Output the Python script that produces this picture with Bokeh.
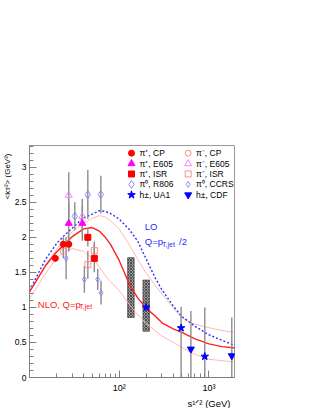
import math
from bokeh.plotting import figure
from bokeh.models import FixedTicker, Label, Span, Range1d, Title
from bokeh.embed import file_html
from bokeh.resources import INLINE

# ---------------- data ----------------
curve_s = [10, 15, 20, 25, 30, 40, 50, 60, 70, 80, 100, 130, 160, 200, 250, 300, 400, 500, 700, 1000, 1400, 2000]
lo_curve = [1.24, 1.68, 1.91, 2.04, 2.13, 2.28, 2.33, 2.38, 2.37, 2.34, 2.26, 2.11, 1.95, 1.69, 1.43, 1.25, 1.02, 0.87, 0.73, 0.61, 0.53, 0.45]
nlo_curve = [1.22, 1.59, 1.79, 1.91, 2.01, 2.12, 2.14, 2.09, 2.00, 1.90, 1.67, 1.33, 1.14, 0.99, 0.88, 0.78, 0.695, 0.645, 0.55, 0.48, 0.44, 0.42]
nlo_upper = [1.22, 1.60, 1.83, 1.98, 2.08, 2.20, 2.27, 2.31, 2.29, 2.24, 2.12, 1.89, 1.69, 1.49, 1.32, 1.19, 0.99, 0.85, 0.76, 0.71, 0.67, 0.64]
nlo_lower = [1.12, 1.48, 1.70, 1.80, 1.84, 1.80, 1.70, 1.58, 1.45, 1.37, 1.24, 1.04, 0.90, 0.77, 0.67, 0.59, 0.50, 0.43, 0.33, 0.26, 0.24, 0.22]

pip_cp_s = [19.4, 23.8, 27.4]
pip_cp_k = [1.70, 1.90, 1.90]
pip_cp_e = [0.05, 0.10, 0.10]
pim_cp_s = [23.8, 27.4]
pim_cp_k = [1.80, 1.90]
pim_cp_e = [0.10, 0.10]
pip_e605_s = [27.4, 38.8]
pip_e605_k = [2.20, 2.20]
pip_e605_e = [0.30, 0.25]
pim_e605_s = [27.4, 38.8]
pim_e605_k = [2.60, 2.30]
pim_e605_e = [0.33, 0.25]
pip_isr_s = [44.7, 52.8]
pip_isr_k = [2.00, 1.70]
pip_isr_e = [0.13, 0.20]
pim_isr_s = [44.7, 52.8]
pim_isr_k = [1.61, 1.81]
pim_isr_e = [0.20, 0.13]
pi0_r806_s = [32.0, 44.7, 62.4]
pi0_r806_k = [2.30, 2.61, 2.61]
pi0_r806_e = [0.20, 0.35, 0.27]
pi0_ccrs_s = [25.6, 40.9, 57.6, 62.7]
pi0_ccrs_k = [1.70, 1.40, 1.40, 1.21]
pi0_ccrs_e = [0.30, 0.19, 0.15, 0.17]
ua1_s = [200, 490, 900]
ua1_k = [1.00, 0.707, 0.30]
ua1_lo = [1.00, 0.0, 0.0]
ua1_hi = [1.00, 1.01, 1.00]
cdf_s = [630, 1800]
cdf_k = [0.405, 0.31]
cdf_lo = [0.0, 0.0]
cdf_hi = [0.95, 0.857]
band_s = [135, 200]
band_lo = [0.857, 0.66]
band_hi = [1.71, 1.39]

x_ticks = [100, 1000]
x_tick_labels = ["10²", "10³"]
x_minor = [20, 30, 40, 50, 60, 70, 80, 90, 200, 300, 400, 500, 600, 700, 800, 900]
y_ticks = [0, 0.5, 1, 1.5, 2, 2.5, 3]
y_tick_labels = ["0", "0.5", "1", "1.5", "2", "2.5", "3"]
y_minor = [i / 10 for i in range(0, 34)]

legend_labels = ["π⁺, CP", "π⁻, CP", "π⁺, E605", "π⁻, E605", "π⁺, ISR", "π⁻, ISR",
                 "π⁰, R806", "π⁰, CCRS", "h±, UA1", "h±, CDF"]
x_title = "s¹ᐟ² (GeV)"
y_title = "<kᴛ²> (GeV²)"

# ---------------- layout ----------------
X0, X1 = 10, 1930
Y0, Y1 = 0, 3.31
W, H = 310, 408
FL, FR, FT, FB = 29, 234, 145, 379
FONT = "Liberation Sans"

p = figure(width=W, height=H, x_axis_type="log",
           x_range=Range1d(X0, X1), y_range=Range1d(Y0, Y1),
           output_backend="svg", toolbar_location=None,
           min_border_left=FL, min_border_right=W - FR,
           min_border_top=FT, min_border_bottom=H - FB)
p.xgrid.visible = False
p.ygrid.visible = False
p.outline_line_color = "#9a9a9a"
p.background_fill_color = "white"
p.border_fill_color = "white"


def xd(px):
    return 10 ** (math.log10(X0) + (px - FL) / (FR - FL) * (math.log10(X1) - math.log10(X0)))


def yd(py):
    return Y0 + (FB - py) / (FB - FT) * (Y1 - Y0)


def lab(px, py, text, size, color="black", align="left", angle=0.0):
    p.add_layout(Label(x=xd(px), y=yd(py), text=text, text_font=FONT,
                       text_font_size=f"{size}px", text_color=color,
                       text_align=align, text_baseline="middle", angle=angle))


# axes
p.xaxis.ticker = FixedTicker(ticks=x_ticks, minor_ticks=x_minor)
p.xaxis.major_label_overrides = dict(zip(x_ticks, x_tick_labels))
p.yaxis.ticker = FixedTicker(ticks=y_ticks, minor_ticks=y_minor)
p.yaxis.major_label_overrides = dict(zip(y_ticks, y_tick_labels))
for ax in (p.xaxis[0], p.yaxis[0]):
    ax.axis_line_color = "#808080"
    ax.major_tick_line_color = "#808080"
    ax.minor_tick_line_color = "#808080"
    ax.major_tick_in = 7
    ax.major_tick_out = 0
    ax.minor_tick_in = 4
    ax.minor_tick_out = 0
    ax.major_label_text_font = FONT
    ax.major_label_text_color = "black"
p.xaxis.major_label_text_font_size = "9px"
p.yaxis.major_label_text_font_size = "8.5px"
p.xaxis.major_label_standoff = 5
p.yaxis.major_label_standoff = 3

# axis titles (ROOT style: at the far ends of the axes)
p.add_layout(Title(text=x_title, align="right", offset=4, standoff=0,
                   text_font=FONT, text_font_size="9.5px", text_font_style="normal",
                   text_color="black"), "below")
p.add_layout(Title(text=y_title, align="right", offset=8, standoff=0,
                   text_font=FONT, text_font_size="8px", text_font_style="normal",
                   text_color="black"), "left")

p.add_layout(Span(location=0, dimension="width", line_color="#3c9a3c",
                  line_dash="2 2", line_width=1))

# bands
half = 10 ** 0.036
p.quad(left=[s / half for s in band_s], right=[s * half for s in band_s],
       bottom=band_lo, top=band_hi, fill_color="#9a9a9a", line_color="#555555",
       line_width=0.8, hatch_pattern="x", hatch_color="#3a3a3a", hatch_scale=3,
       hatch_weight=0.8)

# curves
p.line(curve_s, nlo_upper, line_color="#ffb8b8", line_width=1)
p.line(curve_s, nlo_lower, line_color="#ffb8b8", line_width=1)
p.line(curve_s, lo_curve, line_color="#3030ff", line_width=1.4, line_dash="2 2")
p.line(curve_s, nlo_curve, line_color="#ff2020", line_width=1.4)

# error bars
GRAY = "#8c8c8c"
for s, k, e in [(pip_cp_s, pip_cp_k, pip_cp_e), (pim_cp_s, pim_cp_k, pim_cp_e),
                (pip_e605_s, pip_e605_k, pip_e605_e), (pim_e605_s, pim_e605_k, pim_e605_e),
                (pip_isr_s, pip_isr_k, pip_isr_e), (pim_isr_s, pim_isr_k, pim_isr_e),
                (pi0_r806_s, pi0_r806_k, pi0_r806_e), (pi0_ccrs_s, pi0_ccrs_k, pi0_ccrs_e)]:
    p.segment(x0=s, x1=s, y0=[a - b for a, b in zip(k, e)], y1=[a + b for a, b in zip(k, e)],
              line_color=GRAY, line_width=1.4)
p.segment(x0=ua1_s, x1=ua1_s, y0=ua1_lo, y1=ua1_hi, line_color=GRAY, line_width=1.4)
p.segment(x0=cdf_s, x1=cdf_s, y0=cdf_lo, y1=cdf_hi, line_color=GRAY, line_width=1.4)

# marker styles (label index -> style)
styles = [
    dict(marker="circle", size=6, fill_color="#ff0000", line_color="#ff0000"),
    dict(marker="circle", size=6, fill_color=None, line_color="#ff8c8c", line_width=1),
    dict(marker="triangle", size=7, fill_color="#ff00ff", line_color="#ff00ff"),
    dict(marker="triangle", size=7, fill_color=None, line_color="#ff80ff", line_width=1),
    dict(marker="square", size=6, fill_color="#ff0000", line_color="#ff0000"),
    dict(marker="square", size=6, fill_color=None, line_color="#ff8c8c", line_width=1),
    dict(marker="diamond", size=8, fill_color=None, line_color="#8a8aff", line_width=1),
    dict(marker="diamond", size=6, fill_color=None, line_color="#8a8aff", line_width=1),
    dict(marker="star", size=8, fill_color="#0000ff", line_color="#0000ff"),
    dict(marker="inverted_triangle", size=7, fill_color="#0000ff", line_color="#0000ff"),
]
series = [(pip_cp_s, pip_cp_k), (pim_cp_s, pim_cp_k), (pip_e605_s, pip_e605_k),
          (pim_e605_s, pim_e605_k), (pip_isr_s, pip_isr_k), (pim_isr_s, pim_isr_k),
          (pi0_r806_s, pi0_r806_k), (pi0_ccrs_s, pi0_ccrs_k), (ua1_s, ua1_k), (cdf_s, cdf_k)]
draw_order = [6, 7, 1, 3, 5, 0, 2, 4, 8, 9]
for i in draw_order:
    s, k = series[i]
    p.scatter(s, k, **styles[i])

# legend (two columns)
rows = [152.7, 163.3, 173.7, 184.2, 194.8]
for i, text in enumerate(legend_labels):
    col = i % 2
    row = rows[i // 2]
    mx = 131 if col == 0 else 187.7
    tx = 139 if col == 0 else 195.5
    p.scatter([xd(mx)], [yd(row)], **styles[i])
    lab(tx, row, text, 8.5)

# curve labels
BLUE = "#2a2aff"
RED = "#ff2020"
lab(144.3, 226.7, "LO", 9.5, BLUE)
lab(144.3, 241.7, "Q=p", 9.5, BLUE)
lab(161.5, 244.5, "T,jet", 7, BLUE)
lab(178.5, 241.7, "/2", 9.5, BLUE)
lab(37.3, 305, "NLO, Q=p", 9.5, RED)
lab(78.8, 307.8, "T,jet", 7, RED)

open("out.html", "w").write(file_html(p, INLINE))
